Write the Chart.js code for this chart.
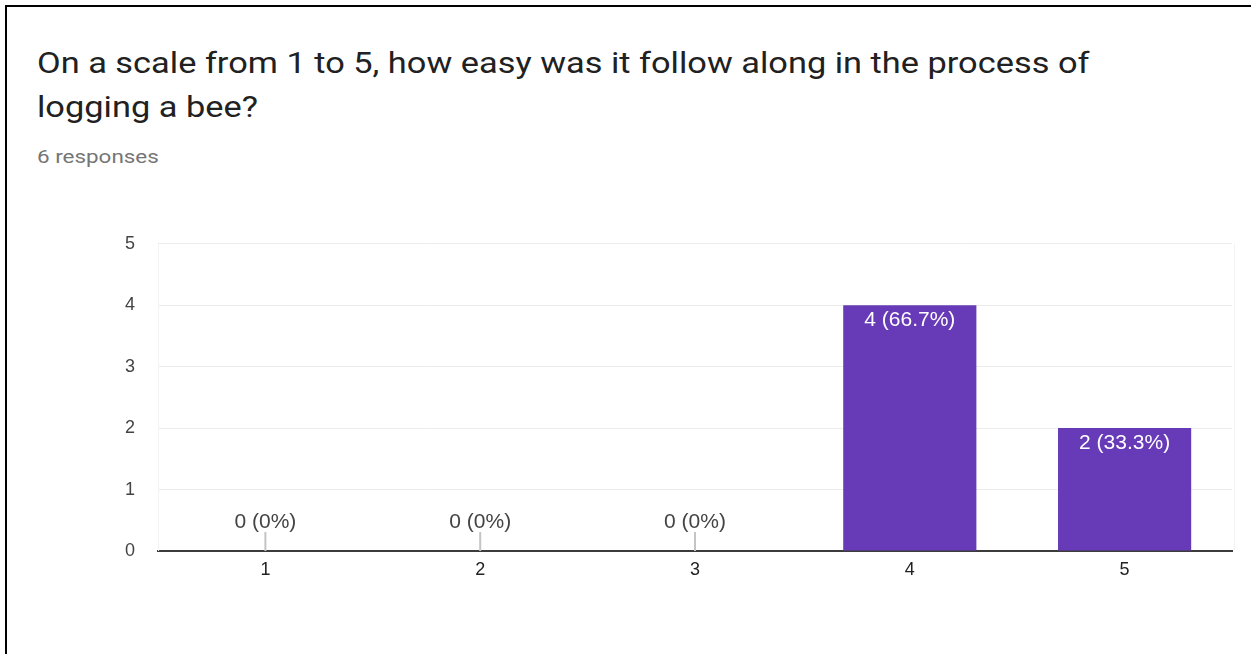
<!DOCTYPE html>
<html>
<head>
<meta charset="utf-8">
<title>Survey results</title>
<script src="https://cdn.jsdelivr.net/npm/chart.js@4.4.1/dist/chart.umd.min.js"></script>
<style>
  html, body { margin: 0; padding: 0; background: #fff; }
  body { width: 1251px; height: 654px; position: relative; overflow: hidden; }
  .frame {
    position: absolute; left: 5px; top: 5px; right: 0; bottom: 0;
    border-left: 2px solid #000; border-top: 2px solid #000;
  }
  .question {
    position: absolute; left: 37px; top: 41px; margin: 0; white-space: nowrap;
    font-family: Roboto, "Noto Sans", sans-serif; font-weight: 400;
    font-size: 29px; line-height: 44px; color: #212121;
    transform: scaleX(1.185); transform-origin: left top;
  }
  .count {
    position: absolute; left: 37px; top: 145px; white-space: nowrap;
    font-family: Roboto, "Noto Sans", sans-serif;
    font-size: 19px; color: #757575;
    transform: scaleX(1.18); transform-origin: left top;
  }
  .chart-box { position: absolute; left: 0; top: 210px; width: 1251px; height: 410px; }
</style>
</head>
<body>
<div class="frame"></div>
<h1 class="question">On a scale from 1 to 5, how easy was it follow along in the process of<br>logging a bee?</h1>
<div class="count">6 responses</div>
<div class="chart-box"><canvas id="ratingChart"></canvas></div>

<script>
// answers on the 1..5 scale and how many people picked each
const ratings = ['1', '2', '3', '4', '5'];
const responses = [0, 0, 0, 4, 2];
const yTicks = [0, 1, 2, 3, 4, 5];

const total = responses.reduce((a, b) => a + b, 0);

function labelFor(v) {
    const pct = total ? Math.round(v / total * 1000) / 10 : 0;
    return v + ' (' + pct + '%)';
}

// value labels: white inside the bar, grey with a little stem when the bar is empty
const barLabels = {
    id: 'barLabels',
    afterDatasetsDraw(chart) {
        const ctx = chart.ctx;
        const meta = chart.getDatasetMeta(0);
        const base = chart.scales.y.getPixelForValue(0);
        ctx.save();
        ctx.font = '21px "Liberation Sans", Arial, sans-serif';
        ctx.textAlign = 'center';
        meta.data.forEach((bar, i) => {
            const v = responses[i];
            if (v > 0) {
                ctx.fillStyle = '#ffffff';
                ctx.textBaseline = 'middle';
                ctx.fillText(labelFor(v), bar.x, bar.y + 15);
            } else {
                ctx.strokeStyle = '#c4c4c4';
                ctx.lineWidth = 2;
                ctx.beginPath();
                ctx.moveTo(bar.x, base);
                ctx.lineTo(bar.x, base - 19);
                ctx.stroke();
                ctx.fillStyle = '#444444';
                ctx.textBaseline = 'alphabetic';
                ctx.fillText(labelFor(v), bar.x, base - 23);
            }
        });
        ctx.restore();
    }
};

// faint outline round the plot area
const plotFrame = {
    id: 'plotFrame',
    beforeDatasetsDraw(chart) {
        const a = chart.chartArea;
        const ctx = chart.ctx;
        ctx.save();
        ctx.strokeStyle = '#f3f3f3';
        ctx.lineWidth = 1;
        ctx.beginPath();
        ctx.moveTo(a.left + 0.5, a.top);
        ctx.lineTo(a.left + 0.5, a.bottom);
        ctx.moveTo(a.right + 2.5, a.top);
        ctx.lineTo(a.right + 2.5, a.bottom);
        ctx.stroke();
        ctx.restore();
    }
};

new Chart(document.getElementById('ratingChart'), {
    type: 'bar',
    data: {
        labels: ratings,
        datasets: [{
            data: responses,
            backgroundColor: '#673ab7',
            categoryPercentage: 1,
            barPercentage: 0.62
        }]
    },
    options: {
        responsive: true,
        maintainAspectRatio: false,
        animation: false,
        layout: { padding: { top: 13, right: 19, left: 0, bottom: 0 } },
        plugins: {
            legend: { display: false },
            tooltip: { enabled: false }
        },
        scales: {
            x: {
                grid: { display: false, drawTicks: false },
                border: { display: true, color: '#3c3c3c', width: 2 },
                ticks: {
                    color: '#222222',
                    padding: 8,
                    font: { family: '"Liberation Sans", Arial, sans-serif', size: 18 }
                },
                afterFit(scale) { scale.height = 69; }
            },
            y: {
                min: 0,
                max: 5,
                afterBuildTicks(scale) { scale.ticks = yTicks.map(v => ({ value: v })); },
                grid: { color: '#ececec', lineWidth: 1, drawTicks: false },
                border: { display: false },
                ticks: {
                    color: '#444444',
                    padding: 23,
                    font: { family: '"Liberation Sans", Arial, sans-serif', size: 18 }
                },
                afterFit(scale) { scale.width = 158; }
            }
        }
    },
    plugins: [plotFrame, barLabels]
});
</script>
</body>
</html>
